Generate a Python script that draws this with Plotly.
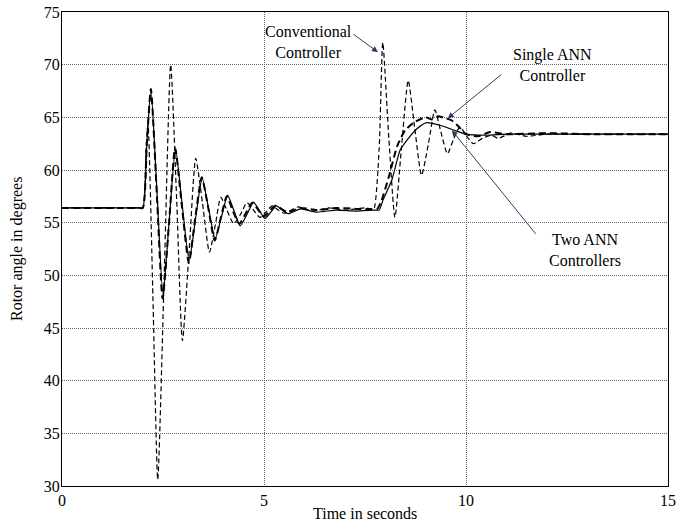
import plotly.graph_objects as go

# Two ANN controllers (solid)
t_two = [0, 0.5, 1.0, 1.5, 1.9, 2.0, 2.1, 2.2, 2.35, 2.5, 2.65, 2.81, 2.98, 3.15, 3.31, 3.47, 3.63, 3.79, 3.95, 4.10,
         4.26, 4.41, 4.58, 4.74, 4.88, 5.02, 5.17, 5.31, 5.45, 5.6, 5.9, 6.3, 6.8, 7.3, 7.7, 7.85,
         7.95, 8.16, 8.37, 8.53, 8.78, 9.03, 9.36, 9.69, 10.0, 10.5, 11.0, 12.0, 13.0, 14.0, 15.0]
v_two = [56.4, 56.4, 56.4, 56.4, 56.4, 56.4, 62.5, 67.7, 58.0, 48.1, 55.0, 62.0, 56.5, 51.4, 55.5, 59.2, 56.3, 53.5, 55.6, 57.6,
         56.1, 54.7, 55.8, 56.95, 56.2, 55.4, 56.0, 56.6, 56.2, 55.85, 56.3, 56.0, 56.2, 56.1, 56.2, 56.2,
         57.2, 59.0, 61.9, 62.8, 63.9, 64.5, 64.25, 63.8, 63.4, 63.3, 63.4, 63.4, 63.4, 63.4, 63.4]

# Single ANN controller (heavy dashed)
t_single = [0, 0.5, 1.0, 1.5, 1.9, 2.0, 2.1, 2.2, 2.35, 2.49, 2.65, 2.8, 2.97, 3.14, 3.3, 3.46, 3.62, 3.78, 3.94, 4.08,
            4.24, 4.39, 4.55, 4.71, 4.86, 5.0, 5.28, 5.58, 5.9, 6.3, 6.8, 7.3, 7.65, 7.8,
            7.9, 8.1, 8.3, 8.5, 8.75, 9.0, 9.15, 9.3, 9.5, 9.65, 9.85, 10.0, 10.3, 10.6, 11.0, 12.0, 13.0, 14.0, 15.0]
v_single = [56.4, 56.4, 56.4, 56.4, 56.4, 56.4, 62.5, 67.7, 57.5, 47.8, 55.0, 62.1, 56.5, 51.2, 55.5, 59.3, 56.4, 53.3, 55.6, 57.5,
            56.0, 54.9, 55.9, 56.9, 56.2, 55.6, 56.6, 56.0, 56.4, 56.2, 56.4, 56.3, 56.3, 56.3,
            57.0, 59.5, 62.3, 63.8, 64.6, 65.0, 64.8, 65.1, 64.9, 64.7, 64.0, 63.4, 63.2, 63.6, 63.4, 63.5, 63.4, 63.4, 63.4]

# Conventional controller (thin dashed)
t_conv = [0, 0.5, 1.0, 1.5, 1.9, 2.0, 2.08, 2.13, 2.25, 2.37, 2.53, 2.69, 2.84, 2.98, 3.15, 3.31, 3.48, 3.65, 3.8, 3.93,
          4.08, 4.25, 4.42, 4.58, 4.74, 4.9, 5.05, 5.2, 5.35, 5.5, 5.85, 6.2, 6.6, 7.0, 7.5, 7.65, 7.72,
          7.85, 7.94, 8.09, 8.24, 8.4, 8.57, 8.73, 8.9, 9.07, 9.23, 9.38, 9.54, 9.7, 9.85, 10.0,
          10.18, 10.4, 10.63, 10.8, 11.1, 11.5, 12.0, 13.0, 14.0, 15.0]
v_conv = [56.4, 56.4, 56.4, 56.4, 56.4, 56.4, 62.0, 64.3, 48.0, 30.6, 50.0, 70.0, 57.0, 43.8, 52.5, 61.1, 56.8, 52.2, 54.9, 57.4,
          56.2, 54.9, 55.8, 56.9, 56.2, 55.5, 56.0, 56.6, 56.2, 55.9, 56.5, 56.1, 56.4, 56.2, 56.4, 56.3, 56.3,
          62.0, 72.1, 63.0, 55.5, 62.0, 68.5, 64.0, 59.5, 62.5, 65.7, 63.6, 61.55, 63.0, 64.1, 63.3,
          62.5, 63.0, 63.3, 63.0, 63.5, 63.2, 63.4, 63.4, 63.4, 63.4]

x_ticks = [0, 5, 10, 15]
y_ticks = [30, 35, 40, 45, 50, 55, 60, 65, 70, 75]

FONT = "Liberation Serif"
SM = 0.6

fig = go.Figure()
fig.add_trace(go.Scatter(x=t_conv, y=v_conv, mode="lines",
                         line=dict(color="black", width=1.2, dash="5px,3px", shape="spline", smoothing=SM),
                         name="Conventional Controller", showlegend=False))
fig.add_trace(go.Scatter(x=t_single, y=v_single, mode="lines",
                         line=dict(color="black", width=2, dash="7px,4px", shape="spline", smoothing=SM),
                         name="Single ANN Controller", showlegend=False))
fig.add_trace(go.Scatter(x=t_two, y=v_two, mode="lines",
                         line=dict(color="black", width=1.2, shape="spline", smoothing=SM),
                         name="Two ANN Controllers", showlegend=False))

axis_common = dict(showline=True, mirror=True, linecolor="black", linewidth=1,
                   showgrid=True, gridcolor="#666666", gridwidth=1, griddash="1px,1px",
                   zeroline=False, ticks="", automargin=False,
                   tickfont=dict(family=FONT, size=16, color="black"))

fig.update_xaxes(range=[0, 15], tickvals=x_ticks, ticktext=[str(v) for v in x_ticks],
                 ticklabelstandoff=0, **axis_common)
fig.update_yaxes(range=[30, 75], tickvals=y_ticks, ticktext=[str(v) for v in y_ticks],
                 ticklabelstandoff=-2, **axis_common)

title_font = dict(family=FONT, size=16, color="black")
fig.add_annotation(x=0.5, y=0, xref="paper", yref="paper", text="Time in seconds", showarrow=False,
                   font=title_font, yanchor="middle", yshift=-27)
fig.add_annotation(x=0, y=0.5, xref="paper", yref="paper", text="Rotor angle in degrees", showarrow=False,
                   font=title_font, textangle=-90, xanchor="center", xshift=-45)

ann_font = dict(family=FONT, size=16, color="black")
fig.add_annotation(x=6.11, y=72.15, text="Conventional<br>Controller", showarrow=False, font=ann_font)
fig.add_annotation(x=7.82, y=71.19, text="", showarrow=True, arrowhead=2, arrowsize=1.2, arrowwidth=1,
                   ax=-26, ay=-19, axref="pixel", ayref="pixel")
fig.add_annotation(x=12.15, y=70.0, text="Single ANN<br>Controller", showarrow=False, font=ann_font)
fig.add_annotation(x=9.55, y=64.91, text="", showarrow=True, arrowhead=2, arrowsize=1.2, arrowwidth=1,
                   ax=55, ay=-45, axref="pixel", ayref="pixel")
fig.add_annotation(x=12.94, y=52.36, text="Two ANN<br>Controllers", showarrow=False, font=ann_font)
fig.add_annotation(x=9.65, y=63.77, text="", showarrow=True, arrowhead=2, arrowsize=1.2, arrowwidth=1,
                   ax=85, ay=105, axref="pixel", ayref="pixel")

fig.update_layout(width=678, height=525, margin=dict(l=62, r=10, t=12, b=39, autoexpand=False),
                  paper_bgcolor="white", plot_bgcolor="white",
                  font=dict(family=FONT, color="black"))

fig.write_html("out.html")
